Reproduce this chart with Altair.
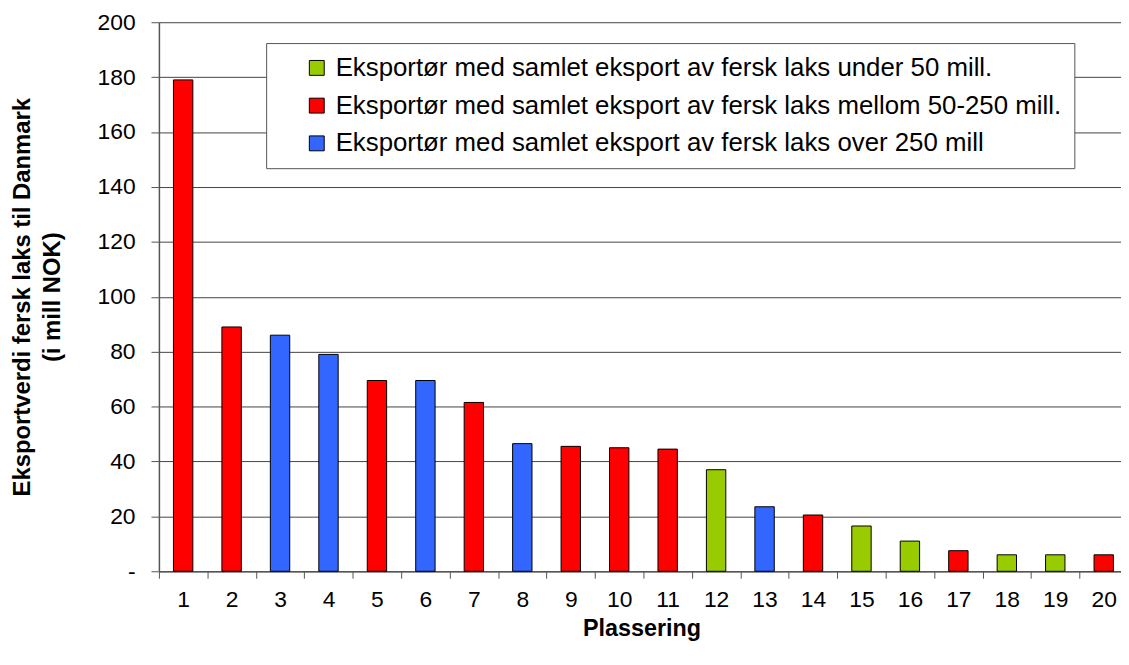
import altair as alt
import pandas as pd

positions = list(range(1, 21))
values = [179, 89, 86, 79, 69.5, 69.5, 61.5, 46.5, 45.5, 45, 44.5, 37, 23.5, 20.5, 16.5, 11, 7.5, 6, 6, 6]
group_keys = ["mid", "mid", "high", "high", "mid", "high", "mid", "high", "mid", "mid",
              "mid", "low", "high", "mid", "low", "low", "mid", "low", "low", "mid"]
legend_labels = {
    "low": "Eksportør med samlet eksport av fersk laks under 50 mill.",
    "mid": "Eksportør med samlet eksport av fersk laks mellom 50-250 mill.",
    "high": "Eksportør med samlet eksport av fersk laks over 250 mill",
}
legend_order = [legend_labels["low"], legend_labels["mid"], legend_labels["high"]]
colors = ["#99CC00", "#FF0000", "#3366FF"]
y_ticks = list(range(0, 201, 20))

df = pd.DataFrame({
    "pos": positions,
    "value": values,
    "group": [legend_labels[g] for g in group_keys],
})

FONT = "Liberation Sans"

chart = alt.Chart(df).mark_bar(
    stroke="black", strokeWidth=1, width=alt.RelativeBandSize(0.4)
).encode(
    x=alt.X(
        "pos:O",
        scale=alt.Scale(range=[0, 976], paddingInner=0, paddingOuter=0),
        axis=alt.Axis(
            title="Plassering",
            labelAngle=0,
            tickBand="extent",
            tickSize=7,
            labelPadding=10,
            labelFontSize=23,
            titleFontSize=23.5,
            titleFontWeight="bold",
            titlePadding=6,
            titleX=486,
            grid=False,
        ),
    ),
    y=alt.Y(
        "value:Q",
        scale=alt.Scale(domain=[0, 200], nice=False),
        axis=alt.Axis(
            values=y_ticks,
            title=["Eksportverdi fersk laks til Danmark", "(i mill NOK)"],
            labelExpr="datum.value == 0 ? '-\u00a0\u00a0\u00a0\u00a0' : datum.label",
            tickSize=8,
            labelPadding=16,
            labelFontSize=23,
            titleFontSize=24,
            titleFontWeight="bold",
            titleLineHeight=30,
            titlePadding=33,
            grid=True,
        ),
    ),
    fill=alt.Fill(
        "group:N",
        scale=alt.Scale(domain=legend_order, range=colors),
        legend=alt.Legend(
            title=None,
            orient="none",
            legendX=108,
            legendY=21,
            fillColor="white",
            strokeColor="#555555",
            padding=12,
            symbolType="square",
            symbolSize=225,
            symbolStrokeColor="black",
            symbolStrokeWidth=1,
            symbolOffset=26,
            labelFontSize=26,
            labelFont=FONT,
            labelColor="black",
            labelLimit=2000,
            labelOffset=6,
            rowPadding=12,
        ),
    ),
).properties(
    width=969,
    height=553,
    autosize=alt.AutoSizeParams(type="none"),
    padding={"left": 152, "top": 12, "right": 0, "bottom": 84},
    background="white",
).configure_axis(
    labelFont=FONT,
    titleFont=FONT,
    labelColor="black",
    titleColor="black",
    domainColor="#555555",
    tickColor="#555555",
    gridColor="#444444",
    gridWidth=1,
    domainWidth=1.5,
).configure_view(
    stroke=None,
)

chart.save("out.html", embed_options={"renderer": "svg", "actions": False})
